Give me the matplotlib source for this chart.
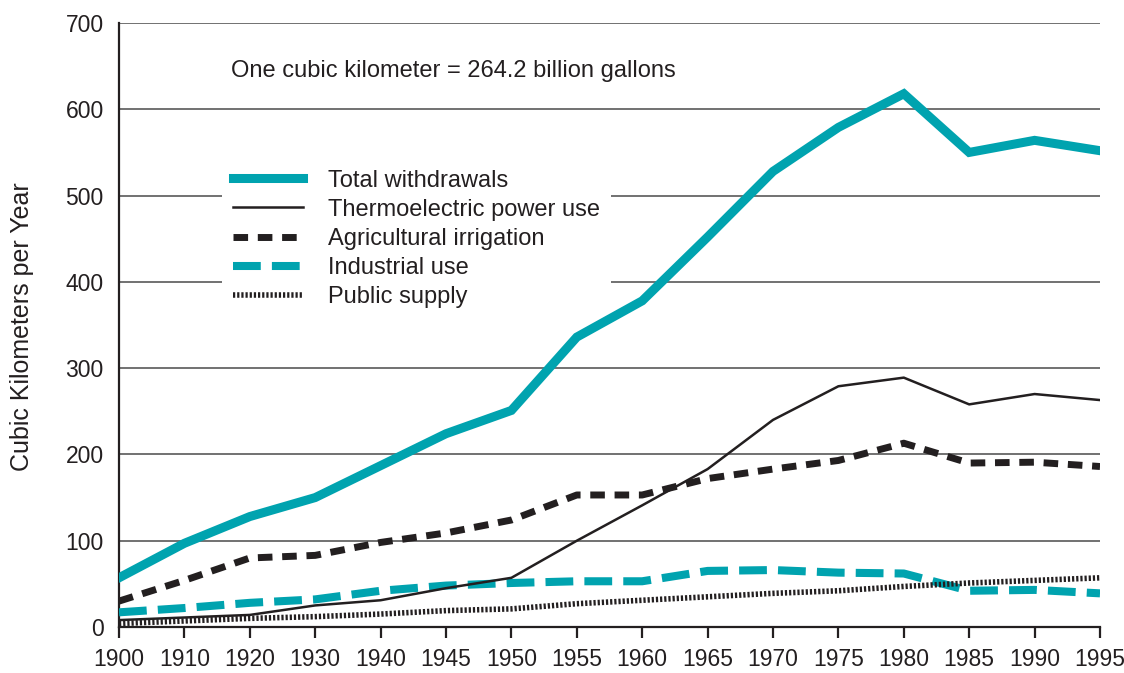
import matplotlib
matplotlib.use("Agg")
import matplotlib.pyplot as plt

plt.rcParams['font.family'] = ['Liberation Sans', 'DejaVu Sans']
plt.rcParams['lines.scale_dashes'] = False

# Data, cubic km per year
years = ['1900', '1910', '1920', '1930', '1940', '1945', '1950', '1955',
         '1960', '1965', '1970', '1975', '1980', '1985', '1990', '1995']
total = [57, 97, 128, 150, 187, 224, 251, 336, 378, 452, 528, 579, 618, 550, 564, 552]
thermo = [8, 11, 14, 25, 31, 45, 57, 100, 141, 183, 240, 279, 289, 258, 270, 263]
agri = [30, 54, 80, 83, 98, 109, 124, 153, 153, 172, 183, 193, 213, 190, 191, 186]
industrial = [17, 22, 28, 32, 42, 48, 51, 53, 53, 65, 66, 63, 62, 42, 43, 39]
public = [4, 7, 10, 12, 15, 19, 21, 27, 31, 35, 39, 42, 47, 51, 54, 57]

teal = '#00A3AF'
black = '#231F20'

fig = plt.figure(figsize=(11.24, 6.73), dpi=100)
ax = fig.add_axes([119 / 1124, 1 - 627 / 673, (1100 - 119) / 1124, (627 - 23) / 673])

x = list(range(len(years)))

ax.plot(x, total, color=teal, lw=6.5, solid_joinstyle='miter', label='Total withdrawals', zorder=5)
ax.plot(x, thermo, color=black, lw=1.8, label='Thermoelectric power use', zorder=4)
ax.plot(x, agri, color=black, lw=5, dashes=(10.5, 7), dash_capstyle='butt',
        label='Agricultural irrigation', zorder=4)
ax.plot(x, industrial, color=teal, lw=5.8, dashes=(20, 8), dash_capstyle='butt',
        label='Industrial use', zorder=3)
ax.plot(x, public, color=black, lw=4, dashes=(1.6, 1.4), dash_capstyle='butt',
        label='Public supply', zorder=3)

ax.set_xlim(0, 15)
ax.set_ylim(0, 700)
ax.set_xticks(x)
ax.set_xticklabels(years)
ax.set_yticks(range(0, 701, 100))

ax.yaxis.grid(True, color='#4a4a4a', lw=1.1)
ax.set_axisbelow(True)
for s in ['top', 'right']:
    ax.spines[s].set_visible(False)
for s in ['left', 'bottom']:
    ax.spines[s].set_color(black)
    ax.spines[s].set_linewidth(1.6)

ax.tick_params(axis='x', length=8, width=1.6, color=black, pad=7, labelsize=16.5, labelcolor=black)
ax.tick_params(axis='y', length=0, pad=11, labelsize=16.5, labelcolor=black)

fig.text(22 / 1124, 1 - 327 / 673, 'Cubic Kilometers per Year', rotation=90,
         ha='center', va='center', fontsize=18, color=black)
fig.text(231 / 1124, 1 - 71 / 673, 'One cubic kilometer = 264.2 billion gallons',
         ha='left', va='center', fontsize=17, color=black)

# white legend box hides the gridlines but sits under the data lines
leg = ax.legend(loc='upper left', bbox_to_anchor=(222 / 1124, 1 - 159 / 673),
                bbox_transform=fig.transFigure, fontsize=17, frameon=True,
                facecolor='white', edgecolor='none', framealpha=1, fancybox=False,
                handlelength=3.0, handletextpad=1.05, labelspacing=0.3,
                borderpad=0.45, borderaxespad=0)
leg.set_zorder(2)
for t in leg.get_texts():
    t.set_color(black)

fig.savefig('out.png', dpi=100)
